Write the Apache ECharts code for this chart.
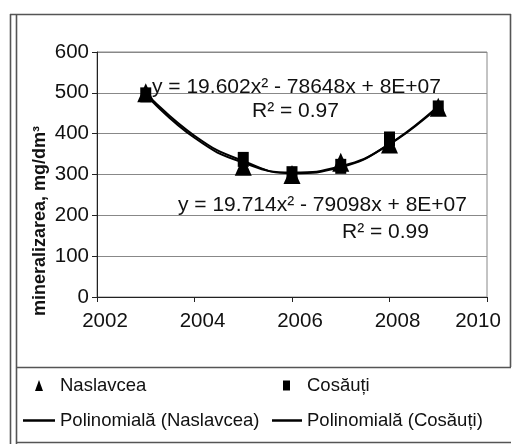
<!DOCTYPE html>
<html>
<head>
<meta charset="utf-8">
<script src="https://cdn.jsdelivr.net/npm/echarts@6/dist/echarts.min.js"></script>
<style>
  html, body { margin: 0; padding: 0; background: #fff; }
  #chart { width: 512px; height: 444px; }
</style>
</head>
<body>
<div id="chart"></div>
<script>
// valori
var naslavcea = [[2003, 500], [2005, 320], [2006, 300], [2007, 330], [2008, 375], [2009, 465]]
var cosauti = [[2003, 495], [2005, 337], [2006, 302], [2007, 320], [2008, 387], [2009, 463]]
// liniile de tendinta (citite de pe curba)
var trendNaslavcea = [[2003, 496], [2004, 390], [2005, 329], [2006, 305], [2007, 320], [2008, 374], [2009, 466]]
var trendCosauti = [[2003, 500], [2004, 395], [2005, 333], [2006, 303], [2007, 318], [2008, 375], [2009, 468]]
var xTicks = [2002, 2004, 2006, 2008, 2010]

var FONT = "'Liberation Sans', Arial, sans-serif"
var INK = "#111"

var chart = echarts.init(document.getElementById("chart"))

function frameLine(x1, y1, x2, y2) {
  return {
    type: "line",
    shape: { x1: x1, y1: y1, x2: x2, y2: y2 },
    style: { stroke: "#555", lineWidth: 1.6 },
    silent: true
  }
}

function label(txt, x, y) {
  return {
    type: "text",
    x: x,
    y: y,
    style: {
      text: txt,
      font: "21px " + FONT,
      fill: INK,
      align: "left",
      verticalAlign: "middle"
    },
    z: 10
  }
}

var option = {
  backgroundColor: "#fff",
  animation: false,
  grid: {
    left: 97,
    right: 25,
    top: 52,
    bottom: 147,
    show: true,
    borderColor: "#888",
    borderWidth: 1
  },
  xAxis: {
    type: "value",
    min: 2002,
    max: 2010,
    interval: 2,
    axisLine: { show: true, lineStyle: { color: "#222", width: 1 } },
    axisTick: { show: true, length: 5, lineStyle: { color: "#222" } },
    splitLine: { show: false },
    axisLabel: {
      margin: 14,
      formatter: function (v) {
        return v === 2010 ? "{e|" + v + "}" : "{n|" + v + "}"
      },
      rich: {
        n: { fontSize: 20.5, fontFamily: FONT, color: INK, padding: [0, 0, 0, 16] },
        e: { fontSize: 20.5, fontFamily: FONT, color: INK, padding: [0, 18, 0, 0] }
      }
    }
  },
  yAxis: {
    type: "value",
    min: 0,
    max: 600,
    interval: 100,
    axisLine: { show: true, lineStyle: { color: "#222", width: 1 } },
    axisTick: { show: true, length: 5, lineStyle: { color: "#222" } },
    splitLine: { show: true, lineStyle: { color: "#888", width: 1 } },
    axisLabel: { margin: 8, fontSize: 20.5, fontFamily: FONT, color: INK }
  },
  legend: [
    {
      left: 35, top: 376, padding: 0,
      itemWidth: 8, itemHeight: 11,
      data: [{ name: "Naslavcea", icon: "triangle" }],
      itemStyle: { opacity: 1 },
      textStyle: { fontSize: 18.5, fontFamily: FONT, color: INK, padding: [0, 0, 0, 12] }
    },
    {
      left: 283, top: 376, padding: 0,
      itemWidth: 7, itemHeight: 10,
      data: [{ name: "Cosăuți", icon: "rect" }],
      itemStyle: { opacity: 1 },
      textStyle: { fontSize: 18.5, fontFamily: FONT, color: INK, padding: [0, 0, 0, 12] }
    },
    {
      left: 23, top: 411, padding: 0,
      itemWidth: 32, itemHeight: 2.5,
      data: [{ name: "Polinomială (Naslavcea)", icon: "rect" }],
      textStyle: { fontSize: 18.5, fontFamily: FONT, color: INK }
    },
    {
      left: 272, top: 411, padding: 0,
      itemWidth: 30, itemHeight: 2.5,
      data: [{ name: "Polinomială (Cosăuți)", icon: "rect" }],
      textStyle: { fontSize: 18.5, fontFamily: FONT, color: INK }
    }
  ],
  graphic: [
    frameLine(10.5, 14, 10.5, 444),
    frameLine(16.5, 14, 16.5, 444),
    frameLine(10, 14.5, 511, 14.5),
    frameLine(510.5, 14, 510.5, 367),
    frameLine(16, 367.5, 511, 367.5),
    frameLine(16, 442.5, 511, 442.5),
    {
      type: "text",
      x: 40,
      y: 221,
      rotation: Math.PI / 2,
      style: {
        text: "mineralizarea, mg/dm³",
        font: "bold 18px " + FONT,
        fill: INK,
        align: "center",
        verticalAlign: "middle"
      }
    },
    label("y = 19.602x² - 78648x + 8E+07", 152, 87),
    label("R² = 0.97", 252, 111),
    label("y = 19.714x² - 79098x + 8E+07", 178, 205),
    label("R² = 0.99", 342, 232)
  ],
  series: [
    {
      name: "Cosăuți",
      type: "scatter",
      data: cosauti,
      symbol: "rect",
      symbolSize: [11, 15],
      itemStyle: { color: "#000", opacity: 1 },
      z: 2
    },
    {
      name: "Naslavcea",
      type: "scatter",
      data: naslavcea,
      symbol: "triangle",
      symbolSize: [17, 19],
      itemStyle: { color: "#000", opacity: 1 },
      z: 3
    },
    {
      name: "Polinomială (Naslavcea)",
      type: "line",
      data: trendNaslavcea,
      smooth: 0.5,
      showSymbol: false,
      symbol: "none",
      lineStyle: { color: "#000", width: 2 },
      itemStyle: { color: "#000" },
      z: 4
    },
    {
      name: "Polinomială (Cosăuți)",
      type: "line",
      data: trendCosauti,
      smooth: 0.5,
      showSymbol: false,
      symbol: "none",
      lineStyle: { color: "#000", width: 2 },
      itemStyle: { color: "#000" },
      z: 4
    }
  ]
}

chart.setOption(option)
</script>
</body>
</html>
